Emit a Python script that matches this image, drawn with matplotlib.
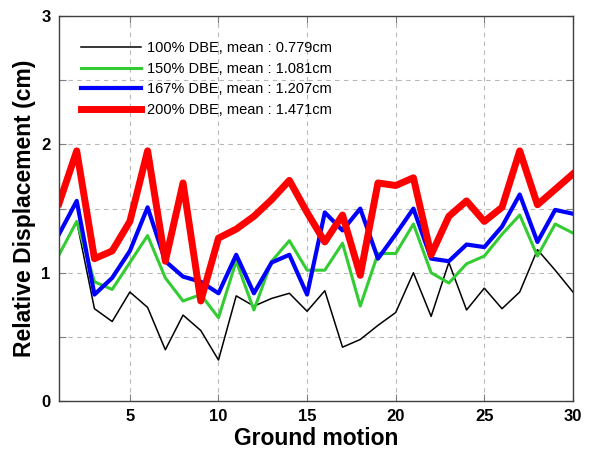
import matplotlib
matplotlib.use("Agg")
import matplotlib.pyplot as plt
import numpy as np

plt.rcParams['font.family'] = ['Liberation Sans', 'DejaVu Sans']

motion = np.arange(1, 31)

dbe100 = [1.14, 1.40, 0.72, 0.62, 0.85, 0.73, 0.40, 0.67, 0.55, 0.32,
          0.82, 0.74, 0.80, 0.84, 0.70, 0.86, 0.42, 0.48, 0.59, 0.69,
          1.00, 0.66, 1.08, 0.71, 0.88, 0.72, 0.85, 1.18, 1.02, 0.85]
dbe150 = [1.14, 1.40, 0.93, 0.87, 1.08, 1.29, 0.96, 0.78, 0.83, 0.65,
          1.09, 0.71, 1.09, 1.25, 1.02, 1.02, 1.23, 0.74, 1.15, 1.15,
          1.38, 1.00, 0.92, 1.07, 1.13, 1.30, 1.45, 1.13, 1.38, 1.31]
dbe167 = [1.30, 1.56, 0.83, 0.96, 1.17, 1.51, 1.09, 0.97, 0.93, 0.84,
          1.14, 0.84, 1.08, 1.14, 0.83, 1.47, 1.33, 1.50, 1.11, 1.30,
          1.50, 1.11, 1.09, 1.22, 1.20, 1.36, 1.61, 1.24, 1.49, 1.46]
dbe200 = [1.54, 1.95, 1.11, 1.17, 1.40, 1.95, 1.09, 1.70, 0.78, 1.27,
          1.34, 1.44, 1.57, 1.72, 1.47, 1.24, 1.45, 0.98, 1.70, 1.68,
          1.74, 1.14, 1.44, 1.56, 1.40, 1.51, 1.95, 1.53, 1.65, 1.77]

labels = ["100% DBE, mean : 0.779cm",
          "150% DBE, mean : 1.081cm",
          "167% DBE, mean : 1.207cm",
          "200% DBE, mean : 1.471cm"]

fig = plt.figure(figsize=(5.9, 4.61), dpi=100)
ax = fig.add_axes([0.1, 0.13, 0.871, 0.835])

ax.plot(motion, dbe100, color='black', lw=1.1, label=labels[0])
ax.plot(motion, dbe150, color='#33cc33', lw=2.2, label=labels[1])
ax.plot(motion, dbe167, color='#0000ff', lw=3.0, label=labels[2])
ax.plot(motion, dbe200, color='#ff0000', lw=5.0, label=labels[3])

ax.set_xlim(1, 30)
ax.set_ylim(0, 3)
ax.set_xticks([5, 10, 15, 20, 25, 30])
ax.set_yticks(np.arange(0, 3.01, 0.5))
ax.set_yticklabels(['0', '', '1', '', '2', '', '3'])
ax.grid(True, color='#b8b8b8', ls=(0, (4, 4)), lw=0.8)
ax.tick_params(direction='in', length=5, color='#808080', width=0.8,
               top=True, right=True, labelsize=12, pad=6)
for t in ax.get_xticklabels() + ax.get_yticklabels():
    t.set_fontweight('bold')
for s in ax.spines.values():
    s.set_color('#404040')
    s.set_linewidth(1.0)

ax.set_xlabel('Ground motion', fontsize=16.5, fontweight='bold', labelpad=2)
ax.set_ylabel('Relative Displacement (cm)', fontsize=16.5, fontweight='bold', labelpad=4)

ax.legend(loc='upper left', bbox_to_anchor=(0.043, 0.935), frameon=False,
          fontsize=10.5, handlelength=4.1, handletextpad=0.4, labelspacing=0.45,
          borderpad=0, borderaxespad=0)

fig.savefig('out.png', dpi=100)
